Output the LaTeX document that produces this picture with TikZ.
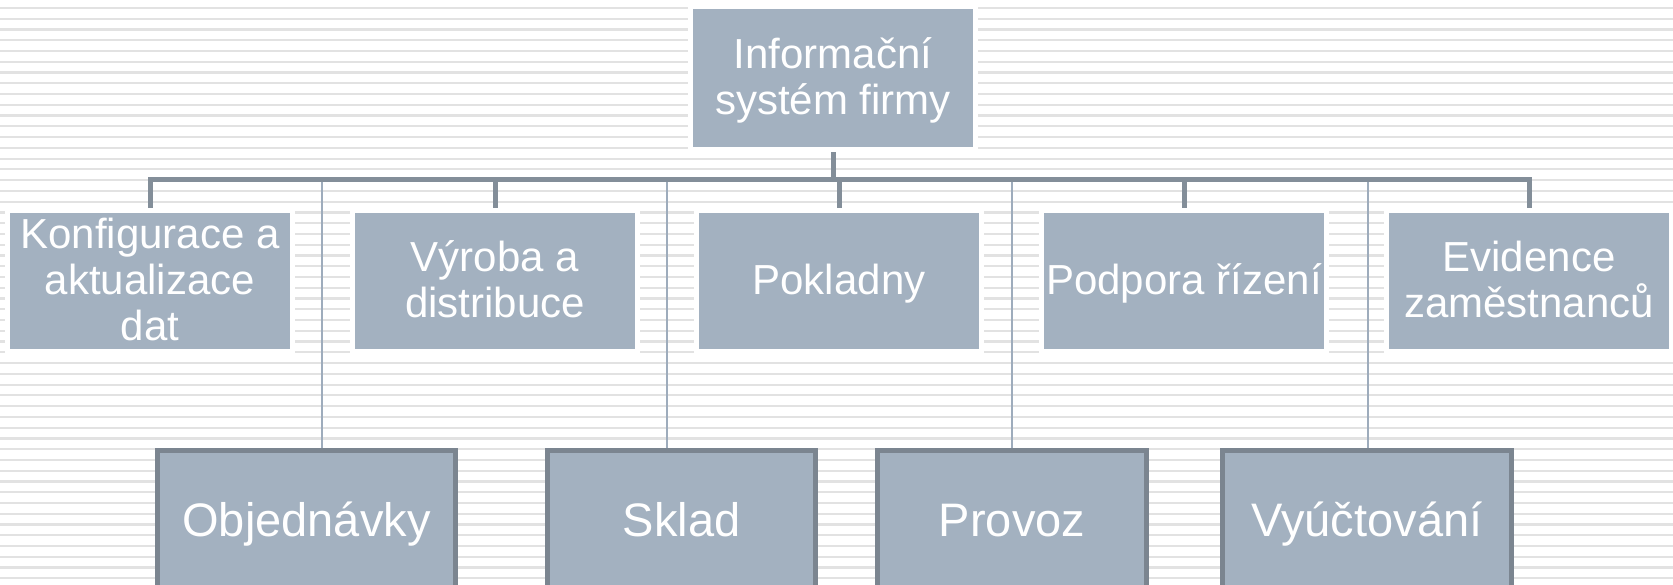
\documentclass[tikz,border=0pt]{standalone}
\usepackage{fontspec}
\setmainfont{Liberation Sans}
\usetikzlibrary{backgrounds}

\definecolor{boxfill}{RGB}{163,177,192}
\definecolor{boxedge}{RGB}{123,133,144}
\definecolor{barcol}{RGB}{131,142,153}
\definecolor{thincol}{RGB}{158,172,188}
\definecolor{stripe}{RGB}{226,226,226}

% line strut for the 42pt box labels (height 36pt, depth 8.5pt)
\newcommand{\lblstrut}{\rule[-8.5pt]{0pt}{44.5pt}}

\begin{document}
\begin{tikzpicture}[x=1pt,y=-1pt,
  box/.style={rectangle, fill=boxfill, text=white, inner sep=0pt, align=center,
    minimum width=280pt, minimum height=136pt,
    font=\fontsize{42}{46}\selectfont,
    preaction={draw=white, line width=10pt}},
  topbox/.style={box, minimum height=138pt},
  leafbox/.style={rectangle, fill=boxfill, draw=boxedge, line width=5pt,
    text=white, inner sep=0pt, align=center, minimum height=151pt,
    font=\fontsize{47}{52}\selectfont},
  bar/.style={draw=barcol, line width=5pt},
  feeder/.style={draw=thincol, line width=2pt},
  stripeline/.style={draw=stripe, line width=2.2pt}]

\useasboundingbox (0,0) rectangle (1673,585);
\clip (0,0) rectangle (1673,585);

% root
\node[topbox] (root) at (833,78) {\lblstrut Informační\\\lblstrut systém firmy};

% second level
\node[box] (konf) at (150,281)  {\lblstrut Konfigurace a\\\lblstrut aktualizace\\\lblstrut dat};
\node[box] (vyr)  at (495,281)  {\lblstrut Výroba a\\\lblstrut distribuce};
\node[box] (pokl) at (839,281)  {\lblstrut Pokladny};
\node[box] (podp) at (1184,281) {\lblstrut Podpora řízení};
\node[box] (evid) at (1529,281) {\lblstrut Evidence\\\lblstrut zaměstnanců};

% bottom level
\node[leafbox, minimum width=298pt] (obj)  at (306.5,526) {\strut Objednávky};
\node[leafbox, minimum width=268pt] (skl)  at (681.5,526) {\strut Sklad};
\node[leafbox, minimum width=269pt] (prov) at (1012,526)  {\strut Provoz};
\node[leafbox, minimum width=289pt] (vyu)  at (1367,526)  {\strut Vyúčtování};

\coordinate (barY) at (0,180);
\coordinate (f1) at (322,181);
\coordinate (f2) at (667,181);
\coordinate (f3) at (1012,181);
\coordinate (f4) at (1368,181);

\begin{pgfonlayer}{background}
  % striped backdrop
  \foreach \i in {0,...,54}
    \draw[stripeline] (0,{8+10.76*\i}) -- (1673,{8+10.76*\i});

  % thin feeders to the bottom row
  \draw[feeder] (f1) -- (f1 |- obj.north);
  \draw[feeder] (f2) -- (f2 |- skl.north);
  \draw[feeder] (f3) -- (f3 |- prov.north);
  \draw[feeder] (f4) -- (f4 |- vyu.north);

  % main bus
  \draw[bar] (root.south) -- (root.south |- barY);
  \draw[bar] (konf.north) -- (konf.north |- barY) -- (evid.north |- barY) -- (evid.north);
  \foreach \n in {vyr,pokl,podp}
    \draw[bar] (\n.north |- barY) -- (\n.north);
\end{pgfonlayer}
\end{tikzpicture}
\end{document}
